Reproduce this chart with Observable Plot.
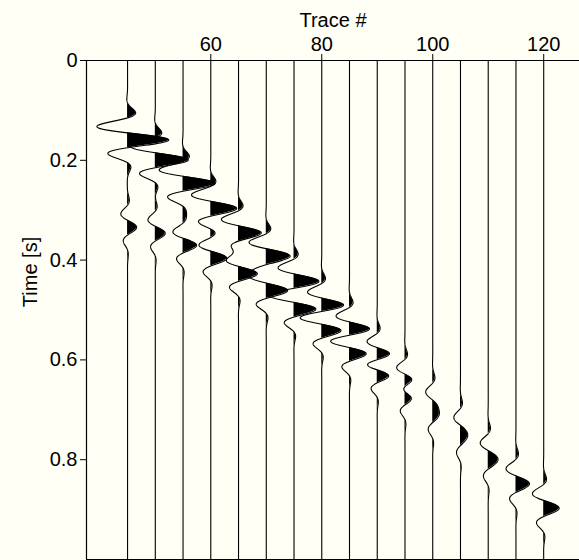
<!DOCTYPE html>
<html><head><meta charset="utf-8">
<script src="https://cdn.jsdelivr.net/npm/d3@7"></script>
<script src="https://cdn.jsdelivr.net/npm/@observablehq/plot@0.6"></script>
<style>
html,body{margin:0;padding:0;background:#fffff6;overflow:hidden;}
</style></head><body>
<div id="chart"></div>
<script>
// ---- data ----
const traces     = [45, 50, 55, 60, 65, 70, 75, 80, 85, 90, 95, 100, 105, 110, 115, 120];
// first (strong) event: arrival time [s] and relative amplitude
const eventATime = [0.160, 0.200, 0.247, 0.297, 0.346, 0.392, 0.443, 0.492, 0.540, 0.592, 0.644, 0.690, 0.740, 0.790, 0.840, 0.890];
const eventAAmp  = [1.00, 0.80, 0.78, 0.63, 0.56, 0.56, 0.51, 0.46, 0.44, 0.37, 0.34, 0.29, 0.25, 0.27, 0.25, 0.25];
// second (later) event
const eventBTime = [0.335, 0.347, 0.371, 0.397, 0.428, 0.462, 0.499, 0.541, 0.587, 0.630, 0.675, 0.714, 0.762, 0.810, 0.856, 0.904];
const eventBAmp  = [0.22, 0.24, 0.33, 0.39, 0.46, 0.51, 0.49, 0.44, 0.39, 0.34, 0.29, 0.27, 0.22, 0.24, 0.26, 0.27];
const xTicks = [60, 80, 100, 120];
const yTicks = [0, 0.2, 0.4, 0.6, 0.8];
const xDomain = [37.6, 126.45];
const yDomain = [0, 1];

// wavelet parameters (half period, envelope width and shift, in seconds) and trace gain
const halfPeriod = 0.030, envWidth = 0.0396, envShift = -0.0064;
const gain = 7.6;
function wavelet(tau) {
  return Math.exp(-(((tau - envShift) / envWidth) ** 2)) * Math.cos(Math.PI * tau / halfPeriod);
}

const samples = [];
traces.forEach((tr, i) => {
  for (let k = 0; k <= 1000; k++) {
    const t = k / 1000;
    const v = eventAAmp[i] * wavelet(t - eventATime[i]) + eventBAmp[i] * wavelet(t - eventBTime[i]);
    samples.push({trace: tr, t, x: tr + gain * v});
  }
});

const chart = Plot.plot({
  width: 579, height: 560,
  marginTop: 60, marginLeft: 86, marginRight: 0, marginBottom: 1,
  style: {fontFamily: "'Liberation Sans', Arial, Helvetica, sans-serif", fontSize: "20px", background: "#fffff6", color: "black", overflow: "visible"},
  x: {domain: xDomain},
  y: {domain: yDomain, reverse: true},
  marks: [
    Plot.areaX(samples, {y: "t", x1: "trace", x2: d => Math.max(d.x, d.trace), z: "trace", fill: "black"}),
    Plot.lineX(samples, {x: "x", y: "t", z: "trace", stroke: "black", strokeWidth: 1.1}),
    Plot.ruleY(yDomain, {stroke: "black", strokeWidth: 1.2}),
    Plot.ruleX([xDomain[0]], {stroke: "black", strokeWidth: 1.2}),
    Plot.axisX(xTicks, {anchor: "top", tickSize: 7, tickPadding: 3, label: "Trace #", labelAnchor: "center", labelArrow: "none", labelOffset: 48}),
    Plot.axisY(yTicks, {anchor: "left", tickSize: 6, tickPadding: 3, tickFormat: d => d === 0 ? "0" : d3.format(".1f")(d), label: null}),
    Plot.text(["Time [s]"], {frameAnchor: "left", rotate: -90, textAnchor: "middle", dx: -56, dy: -38, fontSize: 20})
  ]
});
document.getElementById("chart").appendChild(chart);
</script>
</body></html>
